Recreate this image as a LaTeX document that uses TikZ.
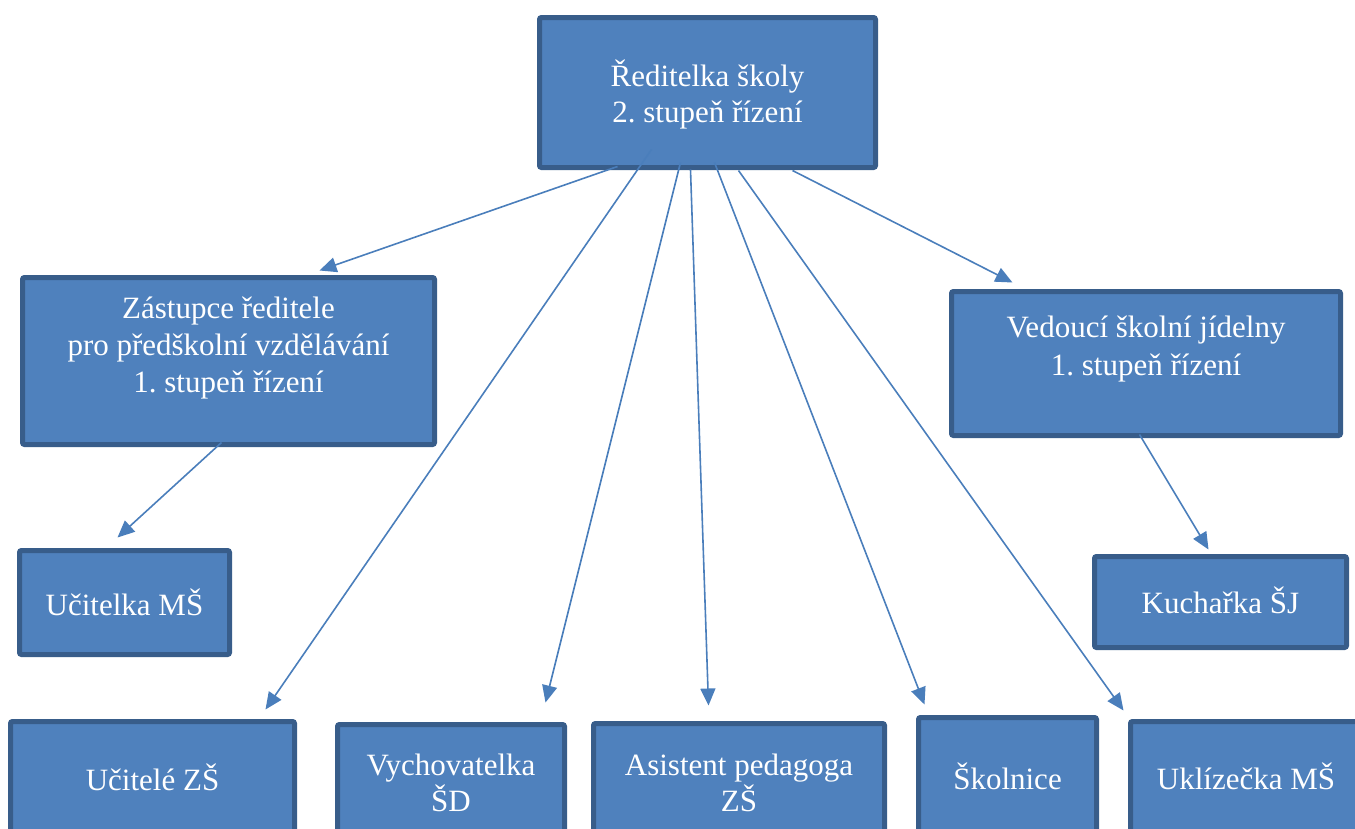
\documentclass[tikz,border=0pt]{standalone}
\usepackage{fontspec}
\setmainfont{Liberation Serif}
\frenchspacing
\usetikzlibrary{arrows.meta,calc}
\definecolor{boxfill}{HTML}{4F81BD}
\definecolor{boxline}{HTML}{385D8A}
\definecolor{arrowc}{HTML}{4A7EBB}
\tikzset{
  orgbox/.style={draw=boxline, fill=boxfill, line width=5pt, rounded corners=2pt, inner sep=0pt},
  txt/.style={text=white, align=center, inner sep=0pt, anchor=base, font=\fontsize{31}{36.5}\selectfont},
  conn/.style={draw=arrowc, line width=1.6pt, -{Triangle[length=17pt,width=15pt]}}
}
\begin{document}
\begin{tikzpicture}[x=1pt,y=-1pt]
\clip (0,0) rectangle (1355,828);
% boxes
\node[orgbox, minimum width=336pt, minimum height=150pt] (T) at (707.5,92.5) {};
\node[orgbox, minimum width=412pt, minimum height=167pt] (Z) at (228.5,361) {};
\node[orgbox, minimum width=389pt, minimum height=144pt] (V) at (1146,363.5) {};
\node[orgbox, minimum width=210pt, minimum height=104pt] (U) at (124.5,602.5) {};
\node[orgbox, minimum width=252pt, minimum height=91pt] (K) at (1220.5,602) {};
\node[orgbox, minimum width=284pt, minimum height=146pt] (B1) at (152.5,794.5) {};
\node[orgbox, minimum width=227pt, minimum height=143pt] (B2) at (451,796) {};
\node[orgbox, minimum width=291pt, minimum height=144pt] (B3) at (739,795.5) {};
\node[orgbox, minimum width=178pt, minimum height=150pt] (B4) at (1007.5,792.5) {};
\node[orgbox, minimum width=231pt, minimum height=146pt] (B5) at (1246,794.5) {};
% texts (anchor base = baseline of last line)
\node[txt] (tT) at ($(T.center)+(0,30)$) {Ředitelka školy\\2. stupeň řízení};
\node[txt, font=\fontsize{31}{37}\selectfont] (tZ) at ($(Z.center)+(0,31)$) {Zástupce ředitele\\pro předškolní vzdělávání\\1. stupeň řízení};
\node[txt, font=\fontsize{31}{38}\selectfont] (tV) at ($(V.center)+(0,11.5)$) {Vedoucí školní jídelny\\1. stupeň řízení};
\node[txt] (tU) at ($(U.center)+(0,12.5)$) {Učitelka MŠ};
\node[txt] (tK) at ($(K.center)+(0,11)$) {Kuchařka ŠJ};
\node[txt] (tB1) at ($(B1.center)+(0,-4.5)$) {Učitelé ZŠ};
\node[txt, font=\fontsize{31}{36}\selectfont] (tB2) at ($(B2.center)+(0,15)$) {Vychovatelka\\ŠD};
\node[txt, font=\fontsize{31}{36}\selectfont] (tB3) at ($(B3.center)+(0,15.5)$) {Asistent pedagoga\\ZŠ};
\node[txt] (tB4) at ($(B4.center)+(0,-3.5)$) {Školnice};
\node[txt] (tB5) at ($(B5.center)+(0,-5.5)$) {Uklízečka MŠ};
% connector ends
\coordinate (s1) at ($(T.south west)+(80.5,-3.5)$);
\coordinate (s2) at ($(T.south west)+(114.5,-20.5)$);
\coordinate (s3) at ($(T.south west)+(143.5,-7.5)$);
\coordinate (s4) at ($(T.south west)+(153.5,-0.5)$);
\coordinate (s5) at ($(T.south west)+(177.5,-7.5)$);
\coordinate (s6) at ($(T.south west)+(201.5,0.5)$);
\coordinate (s7) at ($(T.south west)+(255.5,0.5)$);
\coordinate (s8) at ($(Z.south west)+(201.5,-4.5)$);
\coordinate (s9) at ($(V.south west)+(190.5,-3.5)$);
\coordinate (e1) at ($(Z.north west)+(299.5,-4.5)$);
\coordinate (e2) at ($(B1.north west)+(257.5,-9.5)$);
\coordinate (e3) at ($(B2.north west)+(210.5,-19.5)$);
\coordinate (e4) at ($(B3.north west)+(117.5,-15.5)$);
\coordinate (e5) at ($(B4.north west)+(8.5,-10.5)$);
\coordinate (e6) at ($(B5.north west)+(-4.5,-8.5)$);
\coordinate (e7) at ($(V.north west)+(63.5,-6.5)$);
\coordinate (e8) at ($(U.north west)+(100.5,-10.5)$);
\coordinate (e9) at ($(K.north west)+(116.5,-4.5)$);
% connectors
\draw[conn] (s1) -- (e1);
\draw[conn] (s2) -- (e2);
\draw[conn] (s3) -- (e3);
\draw[conn] (s4) -- (e4);
\draw[conn] (s5) -- (e5);
\draw[conn] (s6) -- (e6);
\draw[conn] (s7) -- (e7);
\draw[conn] (s8) -- (e8);
\draw[conn] (s9) -- (e9);
\end{tikzpicture}
\end{document}
